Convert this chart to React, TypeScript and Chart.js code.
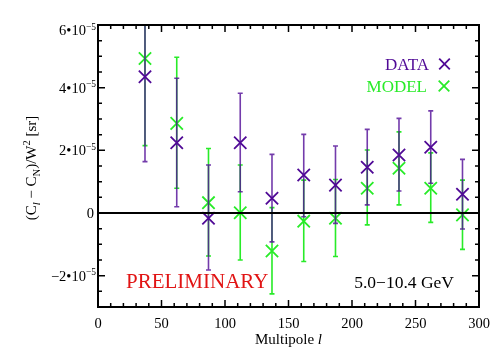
import React, { useEffect, useRef } from 'react';
import { Chart, registerables } from 'chart.js';

Chart.register(...registerables);

// Multipole bin centres
const multipoles = [37, 62, 87, 112, 137, 162, 187, 212, 237, 262, 287];

// DATA series (value, lower and upper error-bar ends), sr
const dataValues = [4.35e-5, 2.24e-5, -0.17e-5, 2.24e-5, 0.47e-5, 1.21e-5, 0.89e-5, 1.46e-5, 1.85e-5, 2.10e-5, 0.60e-5];
const dataLow = [1.64e-5, 0.20e-5, -1.82e-5, 0.68e-5, -0.92e-5, -0.12e-5, -0.33e-5, 0.26e-5, 0.70e-5, 0.95e-5, -0.51e-5];
const dataHigh = [7.06e-5, 4.30e-5, 1.53e-5, 3.82e-5, 1.87e-5, 2.51e-5, 2.14e-5, 2.67e-5, 3.02e-5, 3.26e-5, 1.71e-5];

// MODEL series
const modelValues = [4.93e-5, 2.86e-5, 0.33e-5, 0.01e-5, -1.21e-5, -0.26e-5, -0.17e-5, 0.79e-5, 1.43e-5, 0.79e-5, -0.06e-5];
const modelLow = [2.15e-5, 0.79e-5, -1.37e-5, -1.50e-5, -2.58e-5, -1.55e-5, -1.39e-5, -0.38e-5, 0.26e-5, -0.30e-5, -1.16e-5];
const modelHigh = [7.71e-5, 4.97e-5, 2.06e-5, 1.53e-5, 0.17e-5, 1.05e-5, 1.07e-5, 2.01e-5, 2.59e-5, 1.92e-5, 1.05e-5];

// Axis ticks
const xMajorTicks = [0, 50, 100, 150, 200, 250, 300];
const xTickLabels = ['0', '50', '100', '150', '200', '250', '300'];
const xMinorTicks = [10, 20, 30, 40, 60, 70, 80, 90, 110, 120, 130, 140, 160, 170, 180, 190, 210, 220, 230, 240, 260, 270, 280, 290];
const yMajorTicks = [-2e-5, 0, 2e-5, 4e-5, 6e-5];
const yTickMantissas = ['\u22122', '0', '2', '4', '6'];
const yMinorTicks = [-2.5e-5, -1.5e-5, -1e-5, -0.5e-5, 0.5e-5, 1e-5, 1.5e-5, 2.5e-5, 3e-5, 3.5e-5, 4.5e-5, 5e-5, 5.5e-5];

const X_MIN = 0;
const X_MAX = 300;
const Y_MIN = -3e-5;
const Y_MAX = 6e-5;

const PURPLE = 'rgb(80,10,150)';
const PURPLE_BAR = 'rgba(80,10,150,0.8)';
const GREEN = 'rgb(40,235,40)';
const SERIF = '"Liberation Serif", "DejaVu Serif", serif';

function buildPoints(xs: number[], vs: number[], lo: number[], hi: number[]) {
  return xs.map((x, i) => ({ x, y: vs[i], low: lo[i], high: hi[i] }));
}

function drawCross(ctx: CanvasRenderingContext2D, cx: number, cy: number, h: number) {
  ctx.beginPath();
  ctx.moveTo(cx - h, cy - h);
  ctx.lineTo(cx + h, cy + h);
  ctx.moveTo(cx - h, cy + h);
  ctx.lineTo(cx + h, cy - h);
  ctx.stroke();
}

const decorPlugin = {
  id: 'decor',
  beforeDatasetDraw(chart: any, args: any) {
    const ds = chart.data.datasets[args.index];
    const { ctx, chartArea: a } = chart;
    const xs = chart.scales.x;
    const ys = chart.scales.y;
    ctx.save();
    ctx.beginPath();
    ctx.rect(a.left, a.top, a.right - a.left, a.bottom - a.top);
    ctx.clip();
    ctx.strokeStyle = ds.errColor;
    ctx.lineWidth = 1.6;
    const cap = 2.5;
    ds.data.forEach((p: any) => {
      const px = xs.getPixelForValue(p.x);
      const y1 = ys.getPixelForValue(p.low);
      const y2 = ys.getPixelForValue(p.high);
      ctx.beginPath();
      ctx.moveTo(px, y1);
      ctx.lineTo(px, y2);
      ctx.moveTo(px - cap, y1);
      ctx.lineTo(px + cap, y1);
      ctx.moveTo(px - cap, y2);
      ctx.lineTo(px + cap, y2);
      ctx.stroke();
    });
    ctx.restore();
  },
  afterDatasetsDraw(chart: any) {
    const { ctx, chartArea: a } = chart;
    const xs = chart.scales.x;
    const ys = chart.scales.y;
    ctx.save();

    // zero line
    const y0 = ys.getPixelForValue(0);
    ctx.strokeStyle = '#000';
    ctx.lineWidth = 2;
    ctx.beginPath();
    ctx.moveTo(a.left, y0);
    ctx.lineTo(a.right, y0);
    ctx.stroke();

    // ticks (inward, on all four sides)
    ctx.lineWidth = 1.5;
    const tickX = (v: number, len: number) => {
      const px = xs.getPixelForValue(v);
      ctx.beginPath();
      ctx.moveTo(px, a.bottom);
      ctx.lineTo(px, a.bottom - len);
      ctx.moveTo(px, a.top);
      ctx.lineTo(px, a.top + len);
      ctx.stroke();
    };
    const tickY = (v: number, len: number) => {
      const py = ys.getPixelForValue(v);
      ctx.beginPath();
      ctx.moveTo(a.left, py);
      ctx.lineTo(a.left + len, py);
      ctx.moveTo(a.right, py);
      ctx.lineTo(a.right - len, py);
      ctx.stroke();
    };
    xMajorTicks.forEach((v) => tickX(v, 7));
    xMinorTicks.forEach((v) => tickX(v, 4));
    yMajorTicks.forEach((v) => tickY(v, 7));
    yMinorTicks.forEach((v) => tickY(v, 4));

    // frame
    ctx.lineWidth = 2;
    ctx.strokeRect(a.left, a.top, a.right - a.left, a.bottom - a.top);

    // x tick labels
    ctx.fillStyle = '#000';
    ctx.font = `14.5px ${SERIF}`;
    ctx.textAlign = 'center';
    ctx.textBaseline = 'alphabetic';
    xMajorTicks.forEach((v, i) => {
      ctx.fillText(xTickLabels[i], xs.getPixelForValue(v), a.bottom + 21);
    });

    // y tick labels with superscript exponent
    yMajorTicks.forEach((v, i) => {
      let py = ys.getPixelForValue(v) + 5;
      if (v === Y_MAX) py += 5;
      const xr = a.left - 2;
      ctx.textAlign = 'left';
      if (v === 0) {
        ctx.font = `14.5px ${SERIF}`;
        const w = ctx.measureText('0').width;
        ctx.fillText('0', xr - 2 - w, py);
        return;
      }
      const main = yTickMantissas[i] + '\u202210';
      const sup = '\u22125';
      ctx.font = `9.5px ${SERIF}`;
      const ws = ctx.measureText(sup).width;
      ctx.font = `14.5px ${SERIF}`;
      const wm = ctx.measureText(main).width;
      const x0 = xr - ws - wm;
      ctx.fillText(main, x0, py);
      ctx.font = `9.5px ${SERIF}`;
      ctx.fillText(sup, x0 + wm, py - 5.5);
    });

    // x axis title
    ctx.font = `15px ${SERIF}`;
    const t1 = 'Multipole ';
    const w1 = ctx.measureText(t1).width;
    ctx.font = `italic 15px ${SERIF}`;
    const w2 = ctx.measureText('l').width;
    const cxTitle = (a.left + a.right) / 2;
    const startX = cxTitle - (w1 + w2) / 2;
    ctx.textAlign = 'left';
    ctx.font = `15px ${SERIF}`;
    ctx.fillText(t1, startX, a.bottom + 37);
    ctx.font = `italic 15px ${SERIF}`;
    ctx.fillText('l', startX + w1, a.bottom + 37);

    // y axis title (rotated)
    const parts: [string, string, number][] = [
      ['(C', `15px ${SERIF}`, 0],
      ['l', `italic 10.5px ${SERIF}`, 3.5],
      [' \u2212 C', `15px ${SERIF}`, 0],
      ['N', `10.5px ${SERIF}`, 3.5],
      [')/W', `15px ${SERIF}`, 0],
      ['2', `10.5px ${SERIF}`, -6],
      [' [sr]', `15px ${SERIF}`, 0],
    ];
    let total = 0;
    const widths = parts.map(([s, f]) => {
      ctx.font = f;
      const w = ctx.measureText(s).width;
      total += w;
      return w;
    });
    ctx.save();
    ctx.translate(36, (a.top + a.bottom) / 2 + 2);
    ctx.rotate(-Math.PI / 2);
    let cx = -total / 2;
    parts.forEach(([s, f, dy], i) => {
      ctx.font = f;
      ctx.fillText(s, cx, dy);
      cx += widths[i];
    });
    ctx.restore();

    // annotations
    ctx.font = `21px ${SERIF}`;
    ctx.fillStyle = 'rgb(225,20,20)';
    ctx.textAlign = 'left';
    ctx.fillText('PRELIMINARY', 126, 288);

    ctx.font = `17.5px ${SERIF}`;
    ctx.fillStyle = '#000';
    ctx.textAlign = 'right';
    ctx.fillText('5.0\u221210.4 GeV', 454, 288);

    // legend
    ctx.font = `17px ${SERIF}`;
    ctx.textAlign = 'right';
    ctx.fillStyle = PURPLE;
    ctx.fillText('DATA', 429, 70);
    ctx.fillStyle = GREEN;
    ctx.fillText('MODEL', 427, 92);
    ctx.lineWidth = 1.8;
    ctx.strokeStyle = PURPLE;
    drawCross(ctx, 444.5, 64, 5.3);
    ctx.strokeStyle = GREEN;
    drawCross(ctx, 444, 86, 5.3);

    ctx.restore();
  },
};

export default function App() {
  const ref = useRef<HTMLCanvasElement | null>(null);
  useEffect(() => {
    if (!ref.current) return;
    const chart = new Chart(ref.current, {
      type: 'scatter',
      data: {
        datasets: [
          {
            label: 'DATA',
            data: buildPoints(multipoles, dataValues, dataLow, dataHigh),
            pointStyle: 'crossRot',
            pointRadius: 8.7,
            pointHoverRadius: 8.7,
            borderColor: PURPLE,
            backgroundColor: PURPLE,
            borderWidth: 1.8,
            pointBorderWidth: 1.8,
            errColor: PURPLE_BAR,
          } as any,
          {
            label: 'MODEL',
            data: buildPoints(multipoles, modelValues, modelLow, modelHigh),
            pointStyle: 'crossRot',
            pointRadius: 8.7,
            pointHoverRadius: 8.7,
            borderColor: GREEN,
            backgroundColor: GREEN,
            borderWidth: 1.8,
            pointBorderWidth: 1.8,
            errColor: GREEN,
          } as any,
        ],
      },
      options: {
        responsive: false,
        animation: false,
        events: [],
        layout: { padding: { left: 98, right: 25, top: 25, bottom: 53 } },
        scales: {
          x: { type: 'linear', min: X_MIN, max: X_MAX, display: false },
          y: { type: 'linear', min: Y_MIN, max: Y_MAX, display: false },
        },
        plugins: { legend: { display: false }, tooltip: { enabled: false } },
      },
      plugins: [decorPlugin],
    });
    return () => chart.destroy();
  }, []);
  return (
    <div style={{ position: 'absolute', left: 0, top: 0, width: 504, height: 360, background: '#fff' }}>
      <canvas ref={ref} width={504} height={360} style={{ display: 'block', width: 504, height: 360 }} />
    </div>
  );
}
